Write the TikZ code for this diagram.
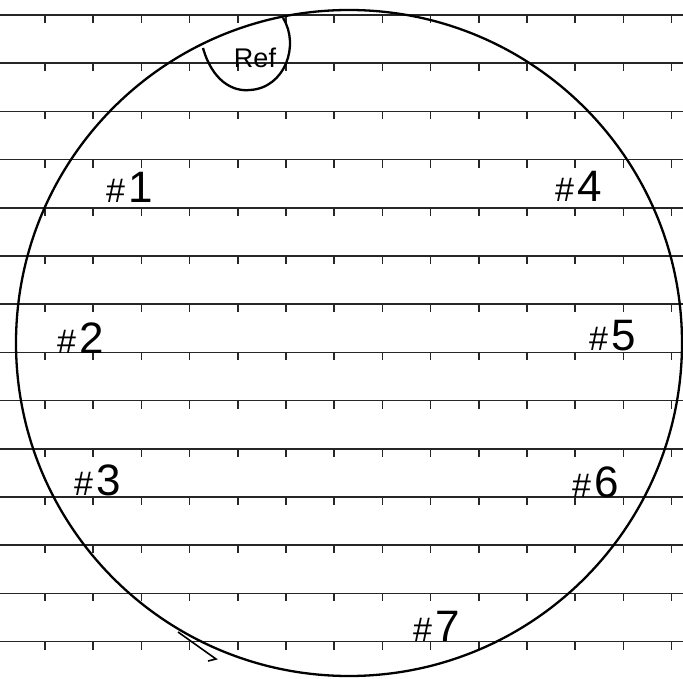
\documentclass[tikz,border=0pt]{standalone}
\usepackage{fontspec}
\setmainfont{Liberation Sans}
\newcommand\hnum[1]{{\fontsize{34}{34}\selectfont\#}\kern3pt{\fontsize{44}{44}\selectfont #1}}
\begin{document}
\begin{tikzpicture}[x=1pt,y=-1pt,
  rule/.style={line width=1.7pt, black!85},
  tickmark/.style={line width=1.5pt, black!85},
  hand/.style={inner sep=0pt, anchor=base west},
  ring/.style={line width=2.3pt}]
\fill[white] (0,0) rectangle (683,679);
\useasboundingbox (0,0) rectangle (683,679);
\foreach \i in {0,...,13} {
  \pgfmathsetmacro\yy{15+48.2*\i}
  \draw[rule] (0,\yy) -- (683,\yy);
  \foreach \j in {0,...,13} {
    \pgfmathsetmacro\xx{45+48.2*\j}
    \draw[tickmark] (\xx,\yy) -- (\xx,\yy+8);
  }
}
\draw[ring] (349,343) circle[radius=333pt];
% Ref loop
\node[inner sep=0pt, font=\fontsize{27}{27}\selectfont] (ref) at (255,58) {Ref};
\draw[ring] (203,48) .. controls (212,80) and (232,92) .. (250,90) .. controls (285,88) and (300,45) .. (283,18);
% bottom mark
\draw[line width=1.6pt] (178,632) -- (216,659) -- (208,661);
% labels
\node[hand] (n1) at (106,203) {\hnum{1}};
\node[hand] (n2) at (57,353) {\hnum{2}};
\node[hand] (n3) at (74,495) {\hnum{3}};
\node[hand] (n4) at (555,202) {\hnum{4}};
\node[hand] (n5) at (589,350) {\hnum{5}};
\node[hand] (n6) at (572,497) {\hnum{6}};
\node[hand] (n7) at (413,641) {\hnum{7}};
\end{tikzpicture}
\end{document}
